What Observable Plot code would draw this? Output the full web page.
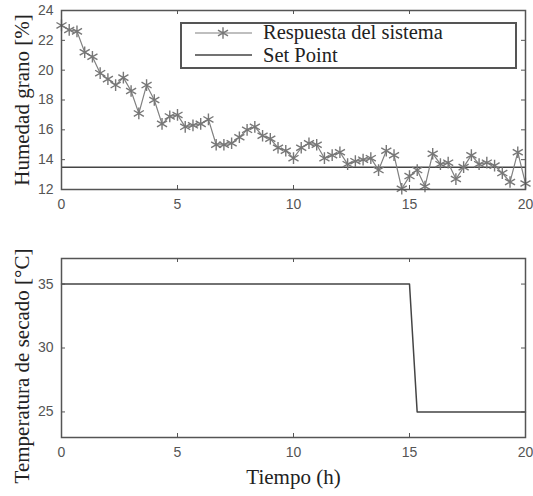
<!DOCTYPE html>
<html><head><meta charset="utf-8">
<script src="https://cdn.jsdelivr.net/npm/d3@7"></script>
<script src="https://cdn.jsdelivr.net/npm/@observablehq/plot@0.6"></script>
<style>
body{margin:0;background:#fff}
#wrap{position:relative;width:533px}
#wrap svg{display:block}
#leg{position:absolute;left:180px;top:22px}
</style></head><body><div id="wrap"></div>
<script>
const tiempo = [0,0.333,0.667,1,1.333,1.667,2,2.333,2.667,3,3.333,3.667,4,4.333,4.667,5,5.333,5.667,6,6.333,6.667,7,7.333,7.667,8,8.333,8.667,9,9.333,9.667,10,10.333,10.667,11,11.333,11.667,12,12.333,12.667,13,13.333,13.667,14,14.333,14.667,15,15.333,15.667,16,16.333,16.667,17,17.333,17.667,18,18.333,18.667,19,19.333,19.667,20];
const humedad = [23.0,22.7,22.6,21.2,20.9,19.8,19.4,19.0,19.5,18.6,17.1,19.0,18.0,16.4,16.9,17.0,16.2,16.3,16.4,16.7,15.0,15.0,15.1,15.5,16.0,16.2,15.6,15.4,14.8,14.6,14.1,14.8,15.1,15.0,14.1,14.3,14.5,13.7,13.9,14.0,14.1,13.3,14.6,14.3,12.05,12.9,13.3,12.2,14.4,13.7,13.8,12.7,13.5,14.3,13.7,13.8,13.6,13.1,12.5,14.5,12.4];
const setPoint = 13.5;
const tiempoTemp = [0,15,15.33,20];
const temperatura = [35,35,25,25];
const xTicks = [0,5,10,15,20];
const yTicksHum = [12,14,16,18,20,22,24];
const yTicksTemp = [25,30,35];
const labelsLegend = ["Respuesta del sistema","Set Point"];

const resp = tiempo.map((t,i)=>({t, h: humedad[i]}));
const tempData = tiempoTemp.map((t,i)=>({t, v: temperatura[i]}));

const W = 533, mL = 61, mR = 8;
const serif = "Liberation Serif, Times New Roman, serif";
const axisCol = "#555";
const labelSize = 21;

function inwardTicks(xt, yt, fh, fw) {
  return [
    Plot.tickX(xt, {x: d=>d, insetTop: fh-4, stroke: axisCol}),
    Plot.tickX(xt, {x: d=>d, insetBottom: fh-4, stroke: axisCol}),
    Plot.tickY(yt, {y: d=>d, insetRight: fw-4, stroke: axisCol}),
    Plot.tickY(yt, {y: d=>d, insetLeft: fw-4, stroke: axisCol})
  ];
}

const H1 = 240, mT1 = 10, mB1 = 51;
const fw = W - mL - mR;
const chartTop = Plot.plot({
  width: W, height: H1, marginLeft: mL, marginRight: mR, marginTop: mT1, marginBottom: mB1,
  style: {fontFamily: "Liberation Sans, Arial, sans-serif", fontSize: "14px", color: "#555", overflow: "visible", background: "#fff"},
  x: {domain: [0,20], ticks: xTicks, label: null},
  y: {domain: [12,24], ticks: yTicksHum, label: null},
  marks: [
    Plot.ruleY([setPoint], {stroke: "#444", strokeWidth: 1.5}),
    Plot.line(resp, {x: "t", y: "h", stroke: "#808080", strokeWidth: 1.2}),
    Plot.dot(resp, {x: "t", y: "h", symbol: "asterisk", r: 5.5, stroke: "#777", strokeWidth: 1.4}),
    ...inwardTicks(xTicks, yTicksHum, H1-mT1-mB1, fw),
    Plot.axisX({ticks: xTicks, tickSize: 0, tickPadding: 10, fill: "#555"}),
    Plot.axisY({ticks: yTicksHum, tickSize: 0, tickPadding: 8, fill: "#555"}),
    Plot.frame({stroke: axisCol, strokeWidth: 1.5}),
    Plot.text(["Humedad grano [%]"], {frameAnchor: "left", textAnchor: "middle", rotate: -90, dx: -39, fontFamily: serif, fontSize: labelSize, fill: "#222"})
  ]
});

const H2 = 256, mT2 = 18, mB2 = 59;
const chartBottom = Plot.plot({
  width: W, height: H2, marginLeft: mL, marginRight: mR, marginTop: mT2, marginBottom: mB2,
  style: {fontFamily: "Liberation Sans, Arial, sans-serif", fontSize: "14px", color: "#555", overflow: "visible", background: "#fff"},
  x: {domain: [0,20], ticks: xTicks, label: null},
  y: {domain: [23,37], ticks: yTicksTemp, label: null},
  marks: [
    Plot.line(tempData, {x: "t", y: "v", stroke: "#444", strokeWidth: 1.5}),
    ...inwardTicks(xTicks, yTicksTemp, H2-mT2-mB2, fw),
    Plot.axisX({ticks: xTicks, tickSize: 0, tickPadding: 10, fill: "#555"}),
    Plot.axisY({ticks: yTicksTemp, tickSize: 0, tickPadding: 8, fill: "#555"}),
    Plot.frame({stroke: axisCol, strokeWidth: 1.5}),
    Plot.text(["Temperatura de secado [°C]"], {frameAnchor: "left", textAnchor: "middle", rotate: -90, dx: -39, dy: 18, fontFamily: serif, fontSize: labelSize, fill: "#222"}),
    Plot.text(["Tiempo (h)"], {frameAnchor: "bottom", dy: 46, fontFamily: serif, fontSize: labelSize, fill: "#222"})
  ]
});

const wrap = document.getElementById("wrap");
wrap.appendChild(chartTop);
wrap.appendChild(chartBottom);

// legend
const lw = 337, lh = 47;
const leg = d3.select(wrap).append("svg").attr("id","leg").attr("width", lw).attr("height", lh);
leg.append("rect").attr("x",1).attr("y",1).attr("width",lw-2).attr("height",lh-2).attr("fill","#fff").attr("stroke",axisCol).attr("stroke-width",2);
leg.append("line").attr("x1",15).attr("x2",72).attr("y1",11).attr("y2",11).attr("stroke","#808080").attr("stroke-width",1.2);
leg.append("path").attr("d", d3.symbol(d3.symbolAsterisk, Math.PI*30)()).attr("transform","translate(43,11)").attr("fill","none").attr("stroke","#777").attr("stroke-width",1.4);
leg.append("line").attr("x1",15).attr("x2",72).attr("y1",33).attr("y2",33).attr("stroke","#444").attr("stroke-width",1.5);
leg.selectAll("text.l").data(labelsLegend).join("text")
  .attr("x",83).attr("y",(d,i)=>17+i*23)
  .attr("font-family",serif).attr("font-size",20.5).attr("fill","#222")
  .text(d=>d);
</script></body></html>
